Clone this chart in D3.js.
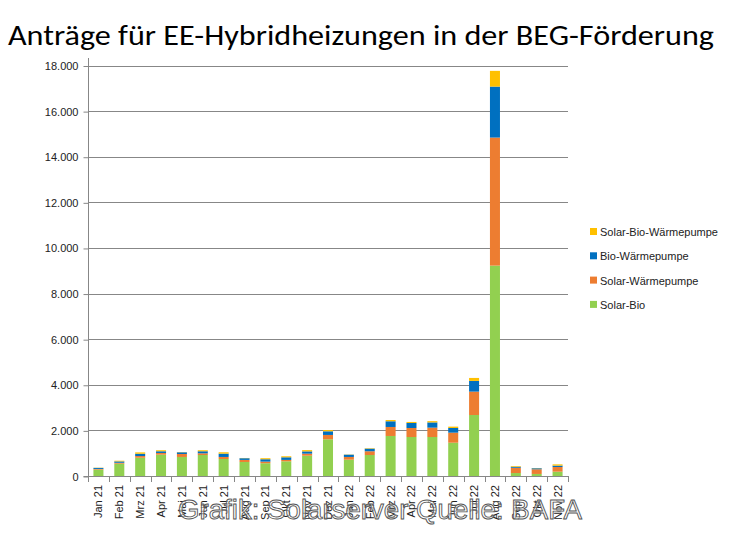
<!DOCTYPE html>
<html><head><meta charset="utf-8">
<script src="https://cdn.jsdelivr.net/npm/d3@7"></script>
<style>body{margin:0;background:#fff}svg{display:block}</style>
</head><body>
<svg id="c" width="742" height="536"></svg>
<script>
const categories = ["Jan 21","Feb 21","Mrz 21","Apr 21","Mai 21","Jun 21","Jul 21","Aug 21","Sep 21","Okt 21","Nov 21","Dez 21",
  "Jan 22","Feb 22","Mrz 22","Apr 22","Mai 22","Jun 22","Jul 22","Aug 22","Sep 22","Okt 22","Nov 22"];
const solarBio        = [280, 540, 800, 935, 835, 920, 745, 615, 560, 645, 890, 1610, 715, 920, 1755, 1710, 1710, 1460, 2675, 9225, 130, 90, 190];
const solarWaermepumpe= [30, 40, 75, 75, 130, 75, 90, 90, 70, 60, 90, 190, 120, 165, 395, 395, 410, 440, 1025, 5615, 230, 205, 205];
const bioWaermepumpe  = [45, 60, 100, 75, 75, 90, 145, 75, 105, 115, 100, 160, 100, 115, 250, 220, 230, 205, 470, 2235, 45, 45, 60];
const solarBioWP      = [10, 30, 60, 45, 10, 45, 60, 10, 45, 45, 55, 55, 10, 20, 55, 45, 55, 60, 130, 690, 30, 10, 55];
const seriesNames = ["Solar-Bio","Solar-Wärmepumpe","Bio-Wärmepumpe","Solar-Bio-Wärmepumpe"];
const seriesColors = ["#92D050","#ED7D31","#0070C0","#FFC000"];
const yTicks = [0,2000,4000,6000,8000,10000,12000,14000,16000,18000];
const title = "Anträge für EE-Hybridheizungen in der BEG-Förderung";
const watermark = "Grafik: Solarserver Quelle: BAFA";

const svg = d3.select("#c");
const font = "'Liberation Sans', Arial, sans-serif";
const m = {left:88, right:568, top:65.5, bottom:476};

const rows = categories.map((c,i)=>({cat:c, "Solar-Bio":solarBio[i], "Solar-Wärmepumpe":solarWaermepumpe[i],
  "Bio-Wärmepumpe":bioWaermepumpe[i], "Solar-Bio-Wärmepumpe":solarBioWP[i]}));
const stacked = d3.stack().keys(seriesNames)(rows);

const x = d3.scaleBand().domain(categories).range([m.left, m.right]).paddingInner(0.52).paddingOuter(0.26);
const y = d3.scaleLinear().domain([0,18000]).range([m.bottom, m.top]);

// title
svg.append("text").attr("x",8).attr("y",45).attr("font-family","Calibri, 'Open Sans', sans-serif")
  .attr("font-size",29).attr("fill","#000").attr("textLength",706).attr("lengthAdjust","spacingAndGlyphs").text(title);

// gridlines
svg.append("g").selectAll("line").data(yTicks.filter(d=>d>0)).join("line")
  .attr("x1",m.left).attr("x2",m.right).attr("y1",d=>Math.round(y(d))+0.5).attr("y2",d=>Math.round(y(d))+0.5)
  .attr("stroke","#878787").attr("stroke-width",1);

// bars
svg.append("g").selectAll("g").data(stacked).join("g").attr("fill",(d,i)=>seriesColors[i])
  .selectAll("rect").data(d=>d).join("rect")
  .attr("x",d=>x(d.data.cat)).attr("width",x.bandwidth())
  .attr("y",d=>y(d[1])).attr("height",d=>Math.max(0,y(d[0])-y(d[1])));

// y axis
const yAxis = d3.axisLeft(y).tickValues(yTicks).tickSize(5).tickPadding(5)
  .tickFormat(d=>d3.format(",")(d).replace(/,/g,"."));
const gy = svg.append("g").attr("transform",`translate(${m.left+0.5},0.5)`).call(yAxis);
gy.select(".domain").attr("stroke","#878787").attr("d",`M-5,${m.bottom}H0V${m.top-8}`);
gy.selectAll(".tick line").attr("stroke","#878787");
gy.selectAll(".tick text").attr("font-family",font).attr("font-size",11).attr("fill","#222");

// x axis
const xg = svg.append("g");
xg.append("line").attr("x1",m.left).attr("x2",m.right).attr("y1",m.bottom+0.5).attr("y2",m.bottom+0.5).attr("stroke","#878787");
const step = x.step();
const bounds = d3.range(categories.length+1).map(i=>x(categories[0]) - x.paddingOuter()*step + i*step);
xg.selectAll("line.t").data(bounds).join("line").attr("class","t")
  .attr("x1",d=>Math.round(d)+0.5).attr("x2",d=>Math.round(d)+0.5).attr("y1",m.bottom).attr("y2",m.bottom+6).attr("stroke","#878787");
xg.selectAll("text").data(categories).join("text")
  .attr("transform",d=>`translate(${x(d)+x.bandwidth()/2+4},${m.bottom+9}) rotate(-90)`)
  .attr("text-anchor","end").attr("font-family",font).attr("font-size",11).attr("fill","#222").text(d=>d);

// legend
const lg = svg.append("g");
const legendOrder = [3,2,1,0];
legendOrder.forEach((si,k)=>{
  const yy = 232 + k*24.3;
  lg.append("rect").attr("x",590).attr("y",yy-4).attr("width",7).attr("height",7).attr("fill",seriesColors[si]);
  lg.append("text").attr("x",600).attr("y",yy+4).attr("font-family",font).attr("font-size",11).attr("fill","#222").text(seriesNames[si]);
});

// watermark
svg.append("text").attr("x",178).attr("y",519).attr("font-family","'Liberation Sans', Arial, sans-serif")
  .attr("font-size",27).attr("fill","rgba(255,255,255,0.55)").attr("stroke","#555").attr("stroke-width",0.9)
  .attr("textLength",404).attr("lengthAdjust","spacingAndGlyphs").text(watermark);
</script>
</body></html>
